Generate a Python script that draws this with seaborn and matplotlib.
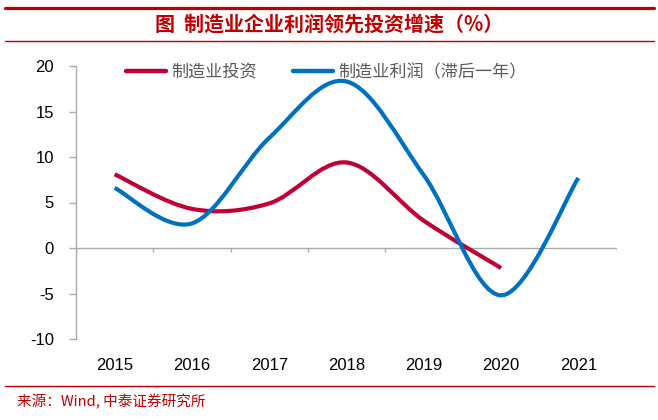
import numpy as np
import matplotlib
matplotlib.use("Agg")
import matplotlib.pyplot as plt
import seaborn as sns
from matplotlib.path import Path
from matplotlib.patches import PathPatch
from matplotlib.lines import Line2D

years = ["2015", "2016", "2017", "2018", "2019", "2020", "2021"]
invest = [8.1, 4.3, 4.9, 9.4, 3.0, -2.2]
profit = [6.6, 2.7, 12.1, 18.3, 8.0, -5.2, 7.7]
yticks = [-10, -5, 0, 5, 10, 15, 20]
title = "图  制造业企业利润领先投资增速（%）"
source = "来源：Wind, 中泰证券研究所"
names = ["制造业投资", "制造业利润（滞后一年）"]
colors = ["#C00035", "#0070C0"]


def smooth_path(xs, ys):
    # Excel-like smoothed line: cubic bezier through each point
    pts = np.column_stack([xs, ys]).astype(float)
    n = len(pts)
    verts = [pts[0]]
    codes = [Path.MOVETO]
    for i in range(n - 1):
        p0 = pts[i - 1] if i > 0 else pts[i]
        p1 = pts[i]
        p2 = pts[i + 1]
        p3 = pts[i + 2] if i + 2 < n else pts[i + 1]
        c1 = p1 + (p2 - p0) / 6.0
        c2 = p2 - (p3 - p1) / 6.0
        verts += [c1, c2, p2]
        codes += [Path.CURVE4] * 3
    return Path(verts, codes)


sns.set_style("white")
plt.rcParams['font.family'] = ['Noto Sans CJK SC', 'DejaVu Sans']

fig = plt.figure(figsize=(6.58, 4.2), dpi=100)
ax = fig.add_axes([76/658, 1-339/420, (617-76)/658, (339-66)/420])

for vals, c in zip([invest, profit], colors):
    p = smooth_path(np.arange(len(vals)), vals)
    ax.add_patch(PathPatch(p, facecolor="none", edgecolor=c, lw=3,
                           capstyle="butt", zorder=3))

ax.set_xlim(-0.5, 6.5)
ax.set_ylim(-10, 20)
grey = "#ABABAB"
ax.axhline(0, color=grey, lw=1, zorder=1)
ax.vlines(np.arange(-0.5, 7), -0.45, 0, color=grey, lw=1, zorder=1)

sns.despine(ax=ax, top=True, right=True, bottom=True)
ax.spines["left"].set_color(grey)
ax.spines["left"].set_linewidth(1)

ax.set_yticks(yticks)
ax.set_yticklabels([str(v) for v in yticks], family="Liberation Sans",
                   fontsize=12, color="black")
ax.tick_params(axis="y", direction="out", length=5, width=1, color=grey,
               pad=11, left=True)
ax.set_xticks(range(len(years)))
ax.set_xticklabels(years, family="Liberation Sans", fontsize=12,
                   color="black")
ax.tick_params(axis="x", length=0, pad=14)

handles = [Line2D([], [], color=c, lw=3.2) for c in colors]
leg = fig.legend(handles, names, loc="center left",
                 bbox_to_anchor=(126/658, 1-72/420),
                 bbox_transform=fig.transFigure, ncol=2, frameon=False,
                 borderpad=0, borderaxespad=0, handlelength=2.35,
                 handletextpad=0.3, columnspacing=2.1,
                 prop={"family": "Noto Sans CJK SC", "size": 12.3})
for t in leg.get_texts():
    t.set_color("#595959")

# header and footer
red = "#C00000"
fig.add_artist(Line2D([5/658, 654/658], [1-8/420, 1-8/420], color=red,
                      lw=2.3, transform=fig.transFigure))
fig.add_artist(Line2D([5/658, 654/658], [1-41/420, 1-41/420], color=red,
                      lw=1, transform=fig.transFigure))
fig.add_artist(Line2D([5/658, 654/658], [1-386/420, 1-386/420], color=red,
                      lw=1, transform=fig.transFigure))
fig.text(0.5, 1-24/420, title, ha="center", va="center", fontsize=14.4,
         fontweight="bold", color=red)
fig.text(17/658, 1-402/420, source, ha="left", va="center", fontsize=10.5,
         color=red)

fig.savefig("out.png", dpi=100)
